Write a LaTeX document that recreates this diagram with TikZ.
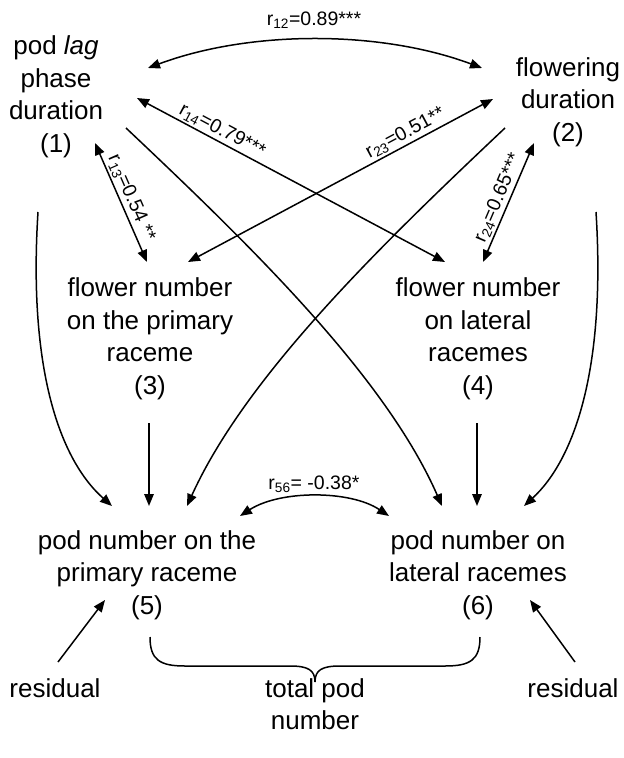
\documentclass[tikz,border=0pt]{standalone}
\usepackage{fontspec}
\setmainfont{Liberation Sans}
\usetikzlibrary{arrows.meta}
\begin{document}
\begin{tikzpicture}[x=1pt,y=1pt,
  lbl/.style={font=\fontsize{26}{32.5}\selectfont, align=center, inner sep=0pt},
  rl/.style={font=\fontsize{19.5}{24}\selectfont, inner sep=2pt},
  tip/.tip={Triangle[length=12pt,width=9.5pt]},
  conn/.style={line width=1.5pt, -tip},
  dconn/.style={line width=1.5pt, tip-tip},
]
\useasboundingbox (0,0) rectangle (624,-758);
% nodes
\node[lbl] (n1) at (56,-97) {pod \textit{lag}\\phase\\duration\\(1)};
\node[lbl] (n2) at (568,-102) {flowering\\duration\\(2)};
\node[lbl] (n3) at (150,-339) {flower number\\on the primary\\raceme\\(3)};
\node[lbl] (n4) at (478,-339) {flower number\\on lateral\\racemes\\(4)};
\node[lbl] (n5) at (147,-575) {pod number on the\\primary raceme\\(5)};
\node[lbl] (n6) at (478,-575) {pod number on\\lateral racemes\\(6)};
\node[lbl] (res1) at (55,-688) {residual};
\node[lbl] (res2) at (573,-688) {residual};
\node[lbl] (tot) at (315,-704) {total pod\\number};
% connector end points
\coordinate (a12s) at (148,-68);  \coordinate (a12e) at (482,-68);
\coordinate (a14s) at (137,-98);  \coordinate (a14e) at (445,-262);
\coordinate (a23s) at (493,-99);  \coordinate (a23e) at (188,-262);
\coordinate (a13s) at (95,-143);  \coordinate (a13e) at (147,-262);
\coordinate (a24s) at (534,-143); \coordinate (a24e) at (483,-262);
\coordinate (c16s) at (126,-128); \coordinate (c16e) at (442,-506);
\coordinate (c25s) at (505,-128); \coordinate (c25e) at (187,-506);
\coordinate (c15s) at (38,-212);  \coordinate (c15e) at (112,-506);
\coordinate (c26s) at (596,-212); \coordinate (c26e) at (524,-506);
\coordinate (v35s) at (149,-423); \coordinate (v35e) at (149,-506);
\coordinate (v46s) at (477,-423); \coordinate (v46e) at (477,-506);
\coordinate (a56s) at (240,-516); \coordinate (a56e) at (389,-516);
\coordinate (r1s) at (58,-662);   \coordinate (r1e) at (105,-600);
\coordinate (r2s) at (575,-662);  \coordinate (r2e) at (530,-600);
% correlations
\draw[dconn] (a12s) .. controls (250,-30) and (380,-30) .. (a12e);
\node[rl] (l12) at (314,-20) {r\textsubscript{12}=0.89***};
\draw[dconn] (a14s) -- node[rl, sloped, above, pos=0.26] (l14) {r\textsubscript{14}=0.79***} (a14e);
\draw[dconn] (a23s) -- node[rl, sloped, above, pos=0.27] (l23) {r\textsubscript{23}=0.51**} (a23e);
\draw[dconn] (a13s) -- node[rl, sloped, above, pos=0.5] (l13) {r\textsubscript{13}=0.54 **} (a13e);
\draw[dconn] (a24e) -- node[rl, sloped, above, pos=0.5] (l24) {r\textsubscript{24}=0.65***} (a24s);
\draw[dconn] (a56s) .. controls (280,-490) and (350,-490) .. (a56e);
\node[rl] (l56) at (314,-484) {r\textsubscript{56}= -0.38*};
% paths
\draw[conn] (c16s) .. controls (250,-245) and (385,-376) .. (c16e);
\draw[conn] (c25s) .. controls (381,-245) and (246,-376) .. (c25e);
\draw[conn] (c15s) .. controls (28,-370) and (60,-460) .. (c15e);
\draw[conn] (c26s) .. controls (606,-370) and (574,-460) .. (c26e);
\draw[conn] (v35s) -- (v35e);
\draw[conn] (v46s) -- (v46e);
\draw[conn] (r1s) -- (r1e);
\draw[conn] (r2s) -- (r2e);
% brace
\draw[line width=1.5pt] (150,-637) .. controls (150,-660) and (160,-666) .. (185,-666)
  -- (290,-666) .. controls (308,-666) and (315,-670) .. (315,-682)
  .. controls (315,-670) and (322,-666) .. (340,-666)
  -- (445,-666) .. controls (470,-666) and (480,-660) .. (480,-637);
\end{tikzpicture}
\end{document}
